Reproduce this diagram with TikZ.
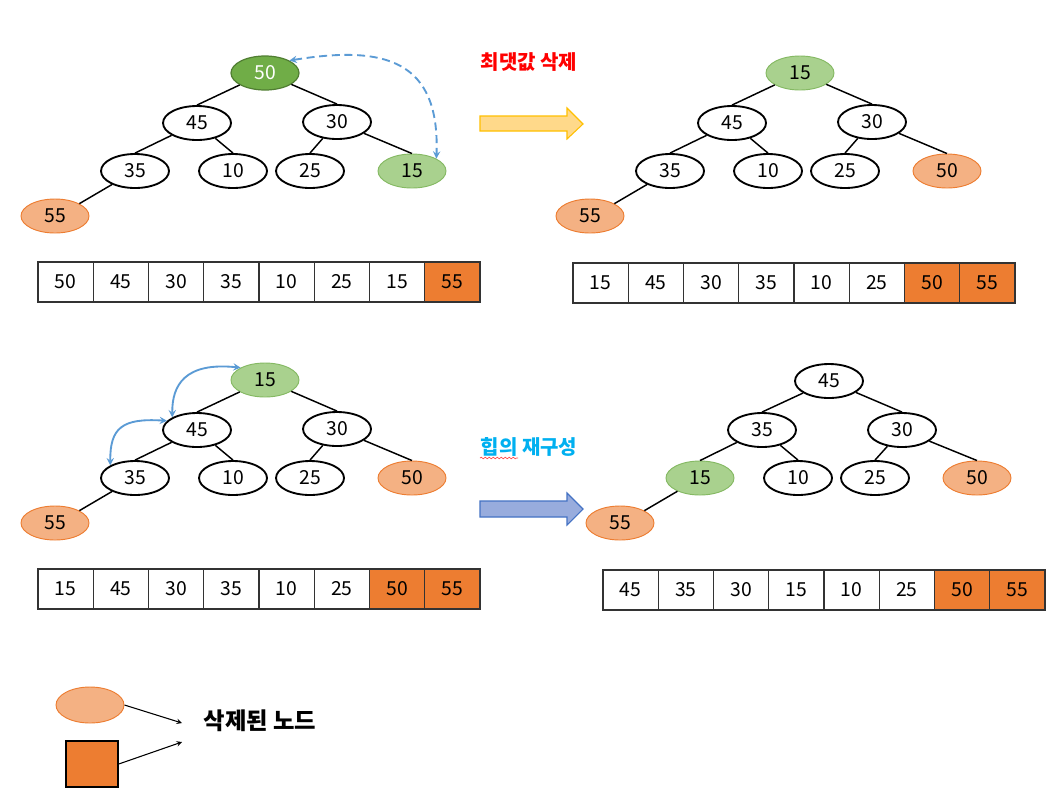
\documentclass[tikz,border=0pt]{standalone}
\usepackage{fontspec}
\setmainfont{Noto Sans CJK KR}
\usetikzlibrary{shapes.geometric,decorations.pathmorphing}
\definecolor{delorange}{HTML}{ED7D31}
\definecolor{delsalmon}{HTML}{F4B183}
\definecolor{maxgreen}{HTML}{70AD47}
\definecolor{maxgreenline}{HTML}{507E32}
\definecolor{lastgreen}{HTML}{A9D18E}
\definecolor{swapblue}{HTML}{5B9BD5}
\definecolor{titleblue}{HTML}{00B0F0}
\definecolor{arrowgold}{HTML}{FFC000}
\definecolor{arrowyellow}{HTML}{FFD98A}
\definecolor{arrowblue}{HTML}{4472C4}
\definecolor{arrowlilac}{HTML}{98ACDD}

\tikzset{
  hnode/.style   = {ellipse, draw, line width=1.4pt, minimum width=51pt,
                    minimum height=25.5pt, inner sep=0pt,
                    font=\fontsize{14.5}{16}\selectfont},
  maxnode/.style = {hnode, draw=maxgreenline, line width=0.9pt, fill=maxgreen, text=white},
  lastnode/.style= {hnode, draw=maxgreen!85, line width=0.7pt, fill=lastgreen},
  delnode/.style = {hnode, draw=delorange, line width=0.7pt, fill=delsalmon},
  edge/.style    = {line width=1.1pt},
  cell/.style    = {rectangle, draw=black!80, line width=1.1pt, minimum width=41.44pt,
                    minimum height=30pt, inner sep=0pt,
                    font=\fontsize{14.5}{16}\selectfont},
  swap/.style    = {<->, swapblue, line width=1.4pt},
}

\begin{document}
\begin{tikzpicture}[x=0.75pt, y=-0.75pt, >=stealth]
  \fill [white] (0,0) rectangle (1052,808);
  \useasboundingbox (0,0) rectangle (1052,808);

  % max value removed
  \begin{scope}[shift={(265,73)}]
    \node [maxnode]  (p-r) at (0,0)      {50};
    \node [hnode]    (p-a) at (-68,50)   {45};
    \node [hnode]    (p-b) at (72,49)    {30};
    \node [hnode]    (p-c) at (-130,98)  {35};
    \node [hnode]    (p-d) at (-32,98)   {10};
    \node [hnode]    (p-e) at (45,98)    {25};
    \node [lastnode] (p-f) at (147,98)   {15};
    \node [delnode]  (p-g) at (-210,143) {55};
  \end{scope}
  \foreach \u/\v in {r/a, r/b, a/c, a/d, b/e, b/f}
    \draw [edge] (p-\u) -- (p-\v.north);
  \draw [edge] (p-c) -- (p-g.north east);
  \draw [swap, dash pattern=on 6pt off 3.5pt] (p-r.north east) .. controls (385,45) and (440,60) .. (p-f.north east);

  \begin{scope}[shift={(800,73)}]
    \node [lastnode] (q-r) at (0,0)      {15};
    \node [hnode]    (q-a) at (-68,50)   {45};
    \node [hnode]    (q-b) at (72,49)    {30};
    \node [hnode]    (q-c) at (-130,98)  {35};
    \node [hnode]    (q-d) at (-32,98)   {10};
    \node [hnode]    (q-e) at (45,98)    {25};
    \node [delnode]  (q-f) at (147,98)   {50};
    \node [delnode]  (q-g) at (-210,143) {55};
  \end{scope}
  \foreach \u/\v in {r/a, r/b, a/c, a/d, b/e, b/f}
    \draw [edge] (q-\u) -- (q-\v.north);
  \draw [edge] (q-c) -- (q-g.north east);

  % heapify
  \begin{scope}[shift={(265,380)}]
    \node [lastnode] (s-r) at (0,0)      {15};
    \node [hnode]    (s-a) at (-68,50)   {45};
    \node [hnode]    (s-b) at (72,49)    {30};
    \node [hnode]    (s-c) at (-130,98)  {35};
    \node [hnode]    (s-d) at (-32,98)   {10};
    \node [hnode]    (s-e) at (45,98)    {25};
    \node [delnode]  (s-f) at (147,98)   {50};
    \node [delnode]  (s-g) at (-210,143) {55};
  \end{scope}
  \foreach \u/\v in {r/a, r/b, a/c, a/d, b/e, b/f}
    \draw [edge] (s-\u) -- (s-\v.north);
  \draw [edge] (s-c) -- (s-g.north east);
  \draw [swap] (s-a.north west) .. controls (172,385) and (185,362) .. (s-r.north west);
  \draw [swap] (s-c.north west) .. controls (110,428) and (122,418) .. (s-a.163);

  \begin{scope}[shift={(829,381)}]
    \node [hnode]    (t-r) at (0,0)      {45};
    \node [hnode]    (t-a) at (-67,49)   {35};
    \node [hnode]    (t-b) at (73,49)    {30};
    \node [lastnode] (t-c) at (-129,97)  {15};
    \node [hnode]    (t-d) at (-31,97)   {10};
    \node [hnode]    (t-e) at (46,97)    {25};
    \node [delnode]  (t-f) at (148,97)   {50};
    \node [delnode]  (t-g) at (-209,142) {55};
  \end{scope}
  \foreach \u/\v in {r/a, r/b, a/c, a/d, b/e, b/f}
    \draw [edge] (t-\u) -- (t-\v.north);
  \draw [edge] (t-c) -- (t-g.north east);

  % arrays
  \begin{scope}[shift={(38,262)}]
    \foreach \v/\f [count=\i] in {50/white, 45/white, 30/white, 35/white,
                                  10/white, 25/white, 15/white, 55/delorange}
      \node [cell, fill=\f] (ma-\i) at ({(\i-0.5)*55.25},20) {\v};
  \end{scope}
  \begin{scope}[shift={(573,263)}]
    \foreach \v/\f [count=\i] in {15/white, 45/white, 30/white, 35/white,
                                  10/white, 25/white, 50/delorange, 55/delorange}
      \node [cell, fill=\f] (mb-\i) at ({(\i-0.5)*55.25},20) {\v};
  \end{scope}
  \begin{scope}[shift={(38,569)}]
    \foreach \v/\f [count=\i] in {15/white, 45/white, 30/white, 35/white,
                                  10/white, 25/white, 50/delorange, 55/delorange}
      \node [cell, fill=\f] (mc-\i) at ({(\i-0.5)*55.25},20) {\v};
  \end{scope}
  \begin{scope}[shift={(603,570)}]
    \foreach \v/\f [count=\i] in {45/white, 35/white, 30/white, 15/white,
                                  10/white, 25/white, 50/delorange, 55/delorange}
      \node [cell, fill=\f] (md-\i) at ({(\i-0.5)*55.25},20) {\v};
  \end{scope}

  % step labels and block arrows
  \node [font=\fontsize{15}{17}\selectfont\bfseries, text=red] (stepa) at (529,62) {최댓값 삭제};
  \draw [arrowgold, fill=arrowyellow, line width=0.8pt]
    (480,116) -- (567,116) -- (567,108) -- (583,124) -- (567,139) -- (567,131) -- (480,131) -- cycle;
  \node [font=\fontsize{15}{17}\selectfont\bfseries, text=titleblue] (stepb) at (529,447) {힙의 재구성};
  \draw [red!70, line width=0.5pt, decorate, decoration={snake, amplitude=0.6pt, segment length=3pt}]
    (480,458) -- (518,458);
  \draw [arrowblue, fill=arrowlilac, line width=0.8pt]
    (480,501) -- (567,501) -- (567,493) -- (583,509) -- (567,525) -- (567,517) -- (480,517) -- cycle;

  % legend
  \node [delnode, minimum height=27pt] (lg-e) at (90,705) {};
  \node [rectangle, draw=black, line width=1.1pt, fill=delorange,
         minimum width=39pt, minimum height=34.5pt] (lg-s) at (92,764) {};
  \node [font=\fontsize{17.5}{19}\selectfont\bfseries] (lg-t) at (260,721) {삭제된 노드};
  \coordinate (lg-a) at (182,723);
  \coordinate (lg-b) at (182,742);
  \draw [->, line width=0.8pt] (lg-e.east) -- (lg-a);
  \draw [->, line width=0.8pt] (lg-s.east) -- (lg-b);
\end{tikzpicture}
\end{document}
